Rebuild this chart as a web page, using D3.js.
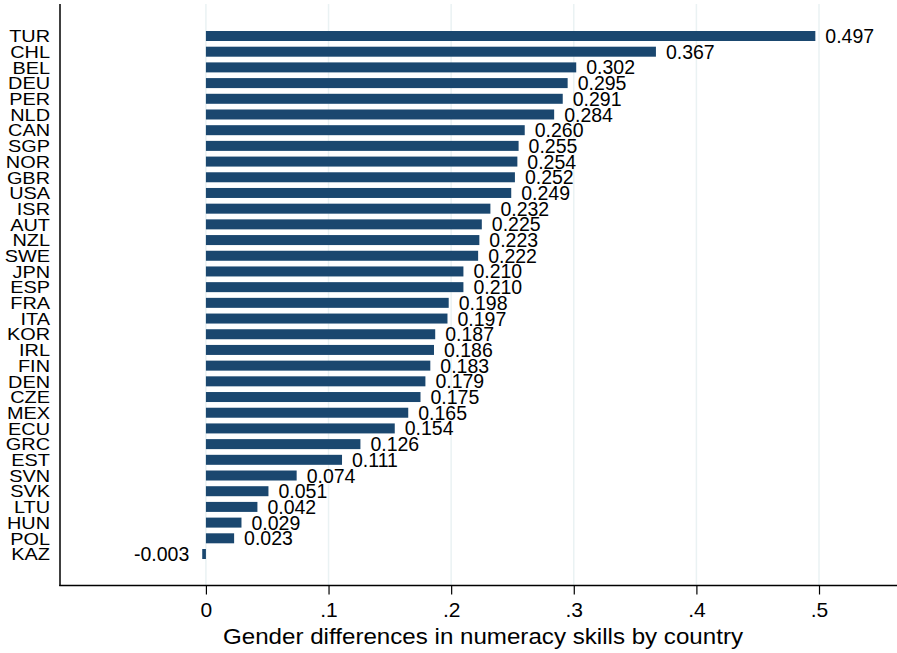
<!DOCTYPE html>
<html><head><meta charset="utf-8">
<script src="https://cdn.jsdelivr.net/npm/d3@7"></script>
<style>body{margin:0;background:#fff}svg{display:block}text{font-family:"Liberation Sans",Arial,sans-serif}</style>
</head><body>
<script>
const countries = ["TUR","CHL","BEL","DEU","PER","NLD","CAN","SGP","NOR","GBR","USA","ISR","AUT","NZL","SWE","JPN","ESP","FRA","ITA","KOR","IRL","FIN","DEN","CZE","MEX","ECU","GRC","EST","SVN","SVK","LTU","HUN","POL","KAZ"];
const values = [0.497,0.367,0.302,0.295,0.291,0.284,0.260,0.255,0.254,0.252,0.249,0.232,0.225,0.223,0.222,0.210,0.210,0.198,0.197,0.187,0.186,0.183,0.179,0.175,0.165,0.154,0.126,0.111,0.074,0.051,0.042,0.029,0.023,-0.003];
const tickValues = [0,0.1,0.2,0.3,0.4,0.5];
const tickLabels = ["0",".1",".2",".3",".4",".5"];
const xTitle = "Gender differences in numeracy skills by country";

(function(){
const W=897,H=653;
const svg=d3.select("body").append("svg").attr("width",W).attr("height",H);
const x=d3.scaleLinear().domain([-0.119,0.5636]).range([60,897]);
const y=d3.scalePoint().domain(countries).range([36,554]);
const plotTop=4, plotBottom=585.5;

// gridlines
svg.append("g").selectAll("line").data(tickValues).join("line")
  .attr("x1",d=>x(d)).attr("x2",d=>x(d)).attr("y1",plotTop).attr("y2",plotBottom)
  .attr("stroke","#eaf2f3").attr("stroke-width",1.5);

// bars
const bh=10;
svg.append("g").selectAll("rect").data(countries).join("rect")
  .attr("x",(d,i)=>Math.min(x(0),x(values[i])))
  .attr("width",(d,i)=>Math.abs(x(values[i])-x(0)))
  .attr("y",d=>y(d)-bh/2).attr("height",bh).attr("fill","#1a476f");

// value labels
svg.append("g").selectAll("text").data(countries).join("text")
  .attr("x",(d,i)=>values[i]>=0? x(values[i])+10 : x(values[i])-13)
  .attr("y",d=>y(d)).attr("dy","0.36em")
  .attr("text-anchor",(d,i)=>values[i]>=0?"start":"end")
  .attr("font-size",19.5).attr("fill","#000")
  .text((d,i)=>d3.format(".3f")(values[i]).replace("−","-"));

// country labels
svg.append("g").selectAll("text").data(countries).join("text")
  .attr("transform",d=>`translate(50,${y(d)}) scale(1.15,1)`)
  .attr("dy","0.36em").attr("text-anchor","end")
  .attr("font-size",17.3).attr("fill","#000").text(d=>d);

// axes lines
svg.append("line").attr("x1",60).attr("x2",60).attr("y1",plotTop).attr("y2",plotBottom+0.5).attr("stroke","#000").attr("stroke-width",1.5);
svg.append("line").attr("x1",59.25).attr("x2",897).attr("y1",plotBottom).attr("y2",plotBottom).attr("stroke","#000").attr("stroke-width",1.5);

// ticks
const xa=d3.axisBottom(x).tickValues(tickValues).tickFormat((d,i)=>tickLabels[i]).tickSize(9).tickPadding(8);
const g=svg.append("g").attr("transform",`translate(0,${plotBottom})`).call(xa);
g.select(".domain").remove();
g.selectAll(".tick line").attr("stroke","#000").attr("stroke-width",1.2);
g.selectAll(".tick text").attr("font-size",21).attr("fill","#000").style("font-family",'"Liberation Sans",Arial,sans-serif');

svg.append("text").attr("x",223).attr("y",644).attr("font-size",22.5)
  .attr("textLength",520).attr("lengthAdjust","spacingAndGlyphs")
  .attr("fill","#000").text(xTitle);
})();
</script>
</body></html>
